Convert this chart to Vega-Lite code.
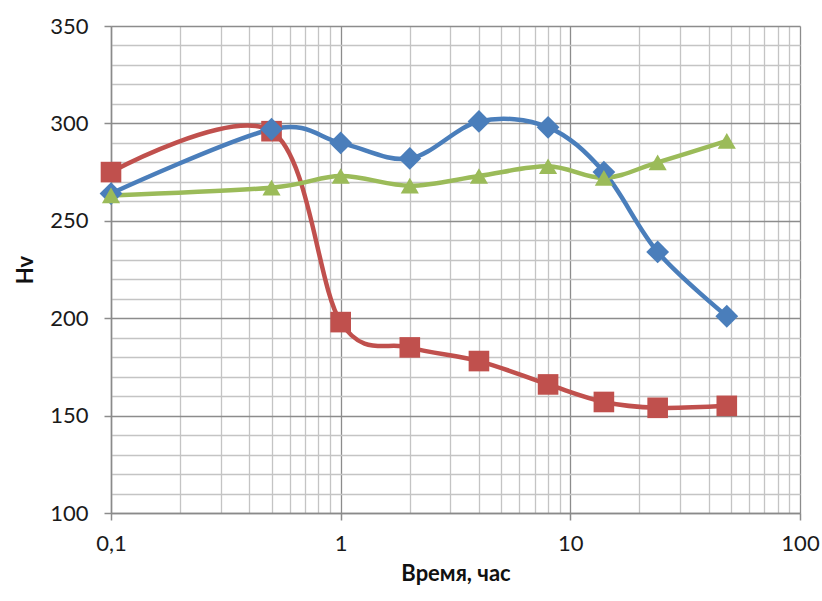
{
  "$schema": "https://vega.github.io/schema/vega-lite/v6.json",
  "width": 689,
  "height": 487,
  "autosize": {"type": "none"},
  "padding": {"left": 111, "top": 26, "right": 22, "bottom": 88},
  "background": "white",
  "config": {
    "view": {"stroke": null},
    "font": "Lato",
    "axis": {
      "labelFont": "Lato",
      "labelFontSize": 22,
      "labelColor": "#1a1a1a",
      "titleFont": "Lato",
      "titleFontSize": 22,
      "titleFontWeight": "bold",
      "titleColor": "#111111",
      "domainColor": "#8a8a8a",
      "domainWidth": 1.5,
      "gridWidth": 1.3,
      "tickWidth": 1.5,
      "tickSize": 7,
      "labelOverlap": false,
      "labelFlush": false
    }
  },
  "data": {
    "values": [
      {"series": "Серия 2", "t": 0.1, "hv": 275},
      {"series": "Серия 2", "t": 0.5, "hv": 296},
      {"series": "Серия 2", "t": 1, "hv": 198},
      {"series": "Серия 2", "t": 2, "hv": 185},
      {"series": "Серия 2", "t": 4, "hv": 178},
      {"series": "Серия 2", "t": 8, "hv": 166},
      {"series": "Серия 2", "t": 14, "hv": 157},
      {"series": "Серия 2", "t": 24, "hv": 154},
      {"series": "Серия 2", "t": 48, "hv": 155},
      {"series": "Серия 1", "t": 0.1, "hv": 264},
      {"series": "Серия 1", "t": 0.5, "hv": 297},
      {"series": "Серия 1", "t": 1, "hv": 290},
      {"series": "Серия 1", "t": 2, "hv": 282},
      {"series": "Серия 1", "t": 4, "hv": 301},
      {"series": "Серия 1", "t": 8, "hv": 298},
      {"series": "Серия 1", "t": 14, "hv": 275},
      {"series": "Серия 1", "t": 24, "hv": 234},
      {"series": "Серия 1", "t": 48, "hv": 201},
      {"series": "Серия 3", "t": 0.1, "hv": 263},
      {"series": "Серия 3", "t": 0.5, "hv": 267},
      {"series": "Серия 3", "t": 1, "hv": 273},
      {"series": "Серия 3", "t": 2, "hv": 268},
      {"series": "Серия 3", "t": 4, "hv": 273},
      {"series": "Серия 3", "t": 8, "hv": 278},
      {"series": "Серия 3", "t": 14, "hv": 272},
      {"series": "Серия 3", "t": 24, "hv": 280},
      {"series": "Серия 3", "t": 48, "hv": 291}
    ]
  },
  "encoding": {
    "x": {
      "field": "t",
      "type": "quantitative",
      "scale": {"type": "log", "domain": [0.1, 100], "nice": false},
      "axis": {
        "title": "Время, час",
        "titlePadding": 9,
        "labelPadding": 13,
        "values": [0.1, 0.2, 0.3, 0.4, 0.5, 0.6, 0.7, 0.8, 0.9, 1, 2, 3, 4, 5, 6, 7, 8, 9, 10, 20, 30, 40, 50, 60, 70, 80, 90, 100],
        "labelExpr": "datum.value == 0.1 ? '0,1' : datum.value == 1 ? '1' : datum.value == 10 ? '10' : datum.value == 100 ? '100' : ''",
        "gridColor": {"condition": {"test": "datum.value == 0.1 || datum.value == 1 || datum.value == 10 || datum.value == 100", "value": "#8c8c8c"}, "value": "#c4c4c4"},
        "tickColor": {"condition": {"test": "datum.value == 0.1 || datum.value == 1 || datum.value == 10 || datum.value == 100", "value": "#8c8c8c"}, "value": "transparent"}
      }
    },
    "y": {
      "field": "hv",
      "type": "quantitative",
      "scale": {"domain": [100, 350], "nice": false, "zero": false},
      "axis": {
        "title": "Hv",
        "titlePadding": 12,
        "labelPadding": 16,
        "values": [100, 110, 120, 130, 140, 150, 160, 170, 180, 190, 200, 210, 220, 230, 240, 250, 260, 270, 280, 290, 300, 310, 320, 330, 340, 350],
        "labelExpr": "datum.value % 50 == 0 ? datum.label : ''",
        "gridColor": {"condition": {"test": "datum.value % 50 == 0", "value": "#8c8c8c"}, "value": "#c4c4c4"},
        "tickColor": {"condition": {"test": "datum.value % 50 == 0", "value": "#8c8c8c"}, "value": "transparent"}
      }
    },
    "color": {
      "field": "series",
      "type": "nominal",
      "scale": {"domain": ["Серия 1", "Серия 2", "Серия 3"], "range": ["#4a7ebb", "#c0504d", "#9bbb59"]},
      "legend": null
    }
  },
  "layer": [
    {"mark": {"type": "line", "interpolate": "cardinal", "strokeWidth": 4.5}},
    {
      "mark": {"type": "point", "filled": true, "opacity": 1},
      "encoding": {
        "shape": {
          "field": "series",
          "type": "nominal",
          "scale": {"domain": ["Серия 1", "Серия 2", "Серия 3"], "range": ["diamond", "square", "triangle-up"]},
          "legend": null
        },
        "size": {
          "field": "series",
          "type": "nominal",
          "scale": {"domain": ["Серия 1", "Серия 2", "Серия 3"], "range": [520, 330, 650]},
          "legend": null
        }
      }
    }
  ]
}
